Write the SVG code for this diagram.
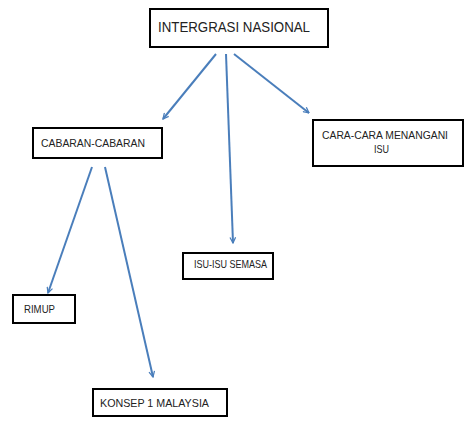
<svg xmlns="http://www.w3.org/2000/svg" width="474" height="431" viewBox="0 0 474 431">
<defs>
<style>
.box{fill:#fff;stroke:#000;stroke-width:2}
.t{font-family:"Liberation Sans","DejaVu Sans",sans-serif;fill:#222;font-size:11px}
.c{fill:none;stroke:#4a7ebb;stroke-width:2}
</style>
<marker id="ah" viewBox="0 0 10 10" refX="9" refY="5" markerWidth="7" markerHeight="7" orient="auto" markerUnits="userSpaceOnUse">
<path d="M1,1 L9,5 L1,9" fill="none" stroke="#4a7ebb" stroke-width="1.8"/>
</marker>
</defs>
<rect width="474" height="431" fill="#fff"/>
<g id="connectors">
<line class="c" x1="216" y1="54" x2="163" y2="119" marker-end="url(#ah)"/>
<line class="c" x1="226" y1="54" x2="233" y2="243" marker-end="url(#ah)"/>
<line class="c" x1="234" y1="54" x2="309" y2="113" marker-end="url(#ah)"/>
<line class="c" x1="92" y1="167" x2="48" y2="293" marker-end="url(#ah)"/>
<line class="c" x1="105" y1="167" x2="153" y2="377" marker-end="url(#ah)"/>
</g>
<g id="n-intergrasi">
<rect class="box" x="150" y="9" width="178" height="38"/>
<text class="t" x="158" y="32" font-size="14" textLength="152" lengthAdjust="spacingAndGlyphs" style="font-size:14px">INTERGRASI NASIONAL</text>
</g>
<g id="n-cabaran">
<rect class="box" x="33" y="128" width="129" height="30"/>
<text class="t" x="41" y="147" textLength="104" lengthAdjust="spacingAndGlyphs">CABARAN-CABARAN</text>
</g>
<g id="n-cara">
<rect class="box" x="313" y="120" width="150" height="46"/>
<text class="t" x="322" y="139" textLength="126" lengthAdjust="spacingAndGlyphs">CARA-CARA MENANGANI</text>
<text class="t" x="374" y="153" textLength="15" lengthAdjust="spacingAndGlyphs">ISU</text>
</g>
<g id="n-isu">
<rect class="box" x="183" y="253" width="90" height="26"/>
<text class="t" x="194" y="268" textLength="73" lengthAdjust="spacingAndGlyphs">ISU-ISU SEMASA</text>
</g>
<g id="n-rimup">
<rect class="box" x="13" y="295" width="62" height="28"/>
<text class="t" x="24" y="313" textLength="31" lengthAdjust="spacingAndGlyphs">RIMUP</text>
</g>
<g id="n-konsep">
<rect class="box" x="93" y="389" width="134" height="27"/>
<text class="t" x="100" y="407" textLength="109" lengthAdjust="spacingAndGlyphs">KONSEP 1 MALAYSIA</text>
</g>
</svg>
